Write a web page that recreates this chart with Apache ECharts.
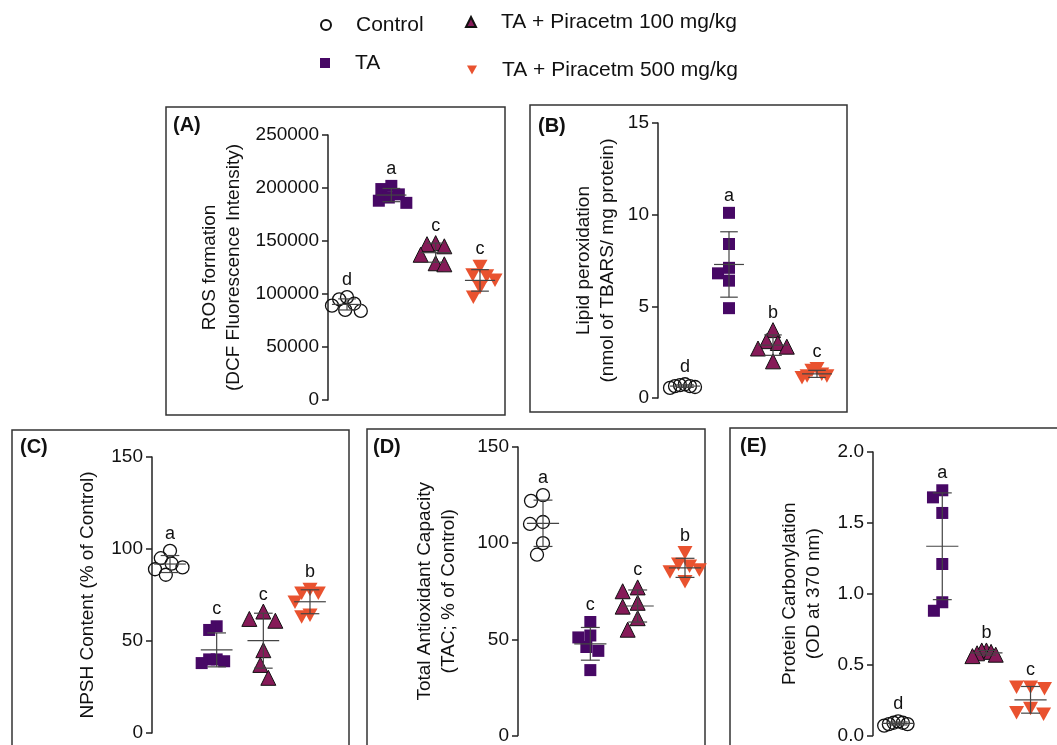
<!DOCTYPE html>
<html>
<head>
<meta charset="utf-8">
<script src="https://cdn.jsdelivr.net/npm/echarts@6/dist/echarts.min.js"></script>
<style>
html, body { margin: 0; padding: 0; background: #fff; }
#chart { width: 1057px; height: 745px; }
</style>
</head>
<body>
<div id="chart"></div>
<script>
// groups (legend order)
const groups = ['Control', 'TA', 'TA + Piracetm 100 mg/kg', 'TA + Piracetm 500 mg/kg'];

// (A) ROS formation
const rosControl = [97000, 95000, 91000, 89000, 85000, 84000];
const rosTA = [202000, 199000, 194000, 191000, 188000, 186000];
const rosTA100 = [148000, 147000, 145000, 137000, 129000, 128000];
const rosTA500 = [126000, 118000, 117000, 113000, 106000, 97000];
const rosLetters = ['d', 'a', 'c', 'c'];

// (B) Lipid peroxidation
const lpoControl = [0.75, 0.7, 0.65, 0.65, 0.6, 0.55];
const lpoTA = [10.1, 8.4, 7.1, 6.8, 6.4, 4.9];
const lpoTA100 = [3.7, 3.1, 3.0, 2.8, 2.7, 2.0];
const lpoTA500 = [1.6, 1.5, 1.3, 1.2, 1.2, 1.1];
const lpoLetters = ['d', 'a', 'b', 'c'];

// (C) NPSH
const npshControl = [99, 95, 92, 90, 89, 86];
const npshTA = [58, 56, 40, 40, 39, 38];
const npshTA100 = [66, 62, 61, 45, 37, 30];
const npshTA500 = [78, 76, 76, 71, 64, 63];
const npshLetters = ['a', 'c', 'c', 'b'];

// (D) TAC
const tacControl = [125, 122, 111, 110, 100, 94];
const tacTA = [59, 52, 51, 46, 44, 34];
const tacTA100 = [77, 75, 69, 67, 61, 55];
const tacTA500 = [95, 89, 88, 86, 85, 80];
const tacLetters = ['a', 'c', 'c', 'b'];

// (E) Protein carbonylation
const pcControl = [0.1, 0.09, 0.09, 0.08, 0.08, 0.07];
const pcTA = [1.73, 1.68, 1.57, 1.21, 0.94, 0.88];
const pcTA100 = [0.6, 0.6, 0.59, 0.58, 0.57, 0.56];
const pcTA500 = [0.34, 0.34, 0.33, 0.19, 0.16, 0.15];
const pcLetters = ['d', 'a', 'b', 'c'];

const panels = [
  { label: '(A)', yName: 'ROS formation\n(DCF Fluorescence Intensity)', max: 250000, interval: 50000, digits: 0,
    data: [rosControl, rosTA, rosTA100, rosTA500], letters: rosLetters,
    axisX: 328, g1: 347, g4: 480, top: 135, bottom: 400, nameGap: 82, box: [166, 107, 339, 308], labelPos: [173, 115] },
  { label: '(B)', yName: 'Lipid peroxidation\n(nmol of TBARS/ mg protein)', max: 15, interval: 5, digits: 0,
    data: [lpoControl, lpoTA, lpoTA100, lpoTA500], letters: lpoLetters,
    axisX: 658, g1: 685, g4: 817, top: 123, bottom: 398, nameGap: 38, box: [530, 105, 317, 307], labelPos: [538, 116] },
  { label: '(C)', yName: 'NPSH Content (% of Control)', max: 150, interval: 50, digits: 0,
    data: [npshControl, npshTA, npshTA100, npshTA500], letters: npshLetters,
    axisX: 152, g1: 170, g4: 310, top: 457, bottom: 733, nameGap: 52, box: [12, 430, 337, 340], labelPos: [20, 437] },
  { label: '(D)', yName: 'Total Antioxidant Capacity\n(TAC; % of Control)', max: 150, interval: 50, digits: 0,
    data: [tacControl, tacTA, tacTA100, tacTA500], letters: tacLetters,
    axisX: 518, g1: 543, g4: 685, top: 447, bottom: 737, nameGap: 57, box: [367, 429, 338, 340], labelPos: [373, 437] },
  { label: '(E)', yName: 'Protein Carbonylation\n(OD at 370 nm)', max: 2, interval: 0.5, digits: 1,
    data: [pcControl, pcTA, pcTA100, pcTA500], letters: pcLetters,
    axisX: 873, g1: 900, g4: 1042, top: 452, bottom: 738, nameGap: 47, box: [730, 428, 360, 340], labelPos: [740, 436] }
];

const invTri = 'path://M0,0L10,0L5,9Z';
const styles = [
  { symbol: 'circle', size: 13, itemStyle: { color: 'rgba(255,255,255,0)', borderColor: '#111', borderWidth: 1.3, opacity: 1 } },
  { symbol: 'rect', size: 12, itemStyle: { color: '#470865', opacity: 1 } },
  { symbol: 'triangle', size: 15, itemStyle: { color: '#861a58', borderColor: '#111', borderWidth: 1, opacity: 1 } },
  { symbol: invTri, size: 15, itemStyle: { color: '#e9522f', opacity: 1 } }
];

function meanSd(arr) {
  const m = arr.reduce((a, b) => a + b, 0) / arr.length;
  const v = arr.reduce((a, b) => a + (b - m) * (b - m), 0) / (arr.length - 1);
  return [m, Math.sqrt(v)];
}

// simple beeswarm: horizontal pixel offsets so markers don't pile up
function swarm(values, pxPerY, size, maxHalf) {
  const order = values.map((v, i) => i).sort((a, b) => values[b] - values[a]);
  const placed = [];
  const offs = new Array(values.length).fill(0);
  const minD = size * 1.0;
  order.forEach(i => {
    const py = values[i] * pxPerY;
    for (let k = 0; k < 200; k++) {
      const dx = (k % 2 === 0 ? 1 : -1) * Math.ceil(k / 2);
      const ok = placed.every(p => Math.hypot(p[0] - dx, p[1] - py) >= minD);
      if (ok) { placed.push([dx, py]); offs[i] = dx; break; }
    }
  });
  const far = Math.max(...offs.map(Math.abs));
  const k = far > maxHalf ? maxHalf / far : 1;
  return offs.map(o => o * k);
}

const grids = [], xAxes = [], yAxes = [], series = [], titles = [], graphics = [];

panels.forEach((p, pi) => {
  const unit = (p.g4 - p.g1) / 3;
  const xmin = 1 - (p.g1 - p.axisX) / unit;
  const xmax = 4.6;
  const pxPerY = (p.bottom - p.top) / p.max;
  grids.push({ left: p.axisX, top: p.top, width: (xmax - xmin) * unit, height: p.bottom - p.top });
  xAxes.push({ gridIndex: pi, type: 'value', min: xmin, max: xmax, show: false });
  yAxes.push({
    gridIndex: pi, type: 'value', min: 0, max: p.max, interval: p.interval,
    name: p.yName, nameLocation: 'middle', nameRotate: 90, nameGap: p.nameGap,
    nameTextStyle: { fontFamily: 'Liberation Sans', fontSize: 19, color: '#111', lineHeight: 24 },
    axisLine: { show: true, lineStyle: { color: '#222', width: 1.5 } },
    axisTick: { show: true, length: 6, lineStyle: { color: '#222', width: 1.5 } },
    axisLabel: { fontFamily: 'Liberation Sans', fontSize: 19, color: '#111', margin: 9,
      formatter: v => v.toFixed(p.digits) },
    splitLine: { show: false }
  });

  const stats = [];
  p.data.forEach((vals, gi) => {
    const st = styles[gi];
    const offs = swarm(vals, pxPerY, st.size, 15);
    series.push({
      name: groups[gi], type: 'scatter', xAxisIndex: pi, yAxisIndex: pi,
      symbol: st.symbol, symbolSize: st.size, symbolKeepAspect: true,
      itemStyle: st.itemStyle, z: 2,
      data: vals.map((v, i) => [gi + 1 + offs[i] / unit, v])
    });
    const ms = meanSd(vals);
    stats.push([gi + 1, ms[0], ms[1], Math.max(...vals)]);
  });

  // mean ± SD bars
  series.push({
    type: 'custom', xAxisIndex: pi, yAxisIndex: pi, z: 5, silent: true,
    data: stats,
    renderItem: (params, api) => {
      const g = api.value(0), m = api.value(1), s = api.value(2);
      const c = api.coord([g, m]);
      const hi = api.coord([g, m + s]);
      const lo = api.coord([g, m - s]);
      const style = { stroke: '#444', lineWidth: 1.2 };
      const w = 0.34 * unit, cw = 0.2 * unit;
      return { type: 'group', children: [
        { type: 'line', shape: { x1: c[0] - w, y1: c[1], x2: c[0] + w, y2: c[1] }, style },
        { type: 'line', shape: { x1: hi[0] - cw, y1: hi[1], x2: hi[0] + cw, y2: hi[1] }, style },
        { type: 'line', shape: { x1: lo[0] - cw, y1: lo[1], x2: lo[0] + cw, y2: lo[1] }, style },
        { type: 'line', shape: { x1: hi[0], y1: hi[1], x2: lo[0], y2: lo[1] }, style }
      ] };
    }
  });

  // significance letters above each group
  series.push({
    type: 'custom', xAxisIndex: pi, yAxisIndex: pi, z: 6, silent: true,
    data: stats.map(s => [s[0], s[3]]),
    renderItem: (params, api) => {
      const pt = api.coord([api.value(0), api.value(1)]);
      return { type: 'text', style: {
        text: p.letters[params.dataIndex], x: pt[0], y: pt[1] - 8,
        textAlign: 'center', textVerticalAlign: 'bottom',
        fontFamily: 'Liberation Sans', fontSize: 18, fill: '#111'
      } };
    }
  });

  titles.push({ text: p.label, left: p.labelPos[0], top: p.labelPos[1], padding: 0,
    textStyle: { fontFamily: 'Liberation Sans', fontSize: 20, fontWeight: 'bold', color: '#111' } });
  graphics.push({ type: 'rect', silent: true, z: -1,
    shape: { x: p.box[0], y: p.box[1], width: p.box[2], height: p.box[3] },
    style: { fill: 'none', stroke: '#333', lineWidth: 1.5 } });
});

const legendText = { fontFamily: 'Liberation Sans', fontSize: 21, color: '#111', lineHeight: 24, padding: [0, 0, 0, 20] };
const legendPos = [[320, 13], [320, 51], [465, 10], [467, 58]];
const legends = groups.map((g, i) => ({
  data: [g], left: legendPos[i][0], top: legendPos[i][1], padding: 0,
  itemWidth: 10, itemHeight: 10, textStyle: legendText, selectedMode: false
}));

const chart = echarts.init(document.getElementById('chart'));
chart.setOption({
  animation: false,
  title: titles,
  legend: legends,
  grid: grids,
  xAxis: xAxes,
  yAxis: yAxes,
  series: series,
  graphic: graphics
});
</script>
</body>
</html>
